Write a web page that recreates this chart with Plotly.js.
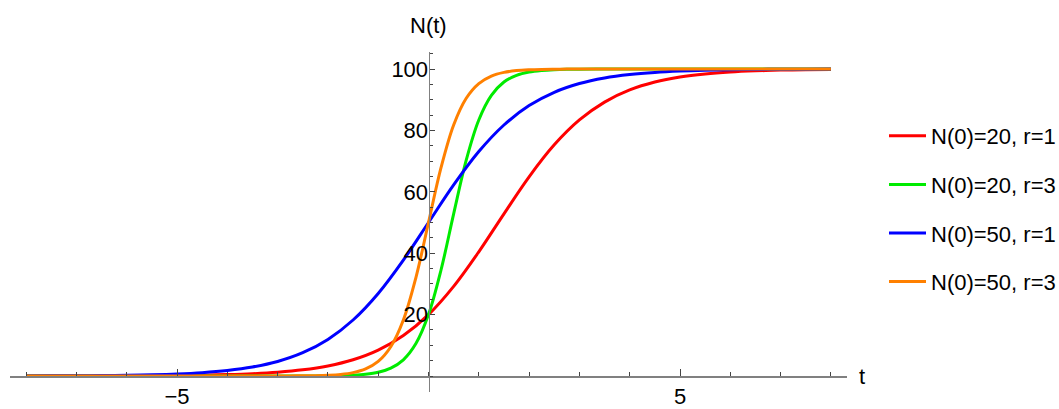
<!DOCTYPE html>
<html><head><meta charset="utf-8">
<script src="https://cdn.plot.ly/plotly-3.0.1.min.js"></script>
<style>html,body{margin:0;padding:0;background:#fff}#chart{width:1059px;height:409px}</style>
</head><body><div id="chart"></div>
<script>
// time samples
const tSlow = [-8,-7.5,-7,-6.5,-6,-5.5,-5,-4.5,-4,-3.5,-3,-2.5,-2,-1.5,-1,-0.5,0,0.5,1,1.5,2,2.5,3,3.5,4,4.5,5,5.5,6,6.5,7,7.5,8];
const tFast = [-8,-7,-6,-5,-4,-3.5,-3,-2.75,-2.5,-2.25,-2,-1.75,-1.5,-1.25,-1,-0.75,-0.5,-0.25,0,0.25,0.5,0.75,1,1.25,1.5,1.75,2,2.25,2.5,2.75,3,3.5,4,5,6,7,8];

// N(0)=20, r=1
const n20r1 = [0.01,0.01,0.02,0.04,0.06,0.10,0.17,0.28,0.46,0.75,1.23,2.01,3.27,5.28,8.42,13.17,20,29.19,40.46,52.84,64.88,75.29,83.40,89.22,93.17,95.75,97.38,98.39,99.02,99.40,99.64,99.78,99.87];
// N(0)=50, r=1
const n50r1 = [0.03,0.06,0.09,0.15,0.25,0.41,0.67,1.10,1.80,2.93,4.74,7.59,11.92,18.24,26.89,37.75,50,62.25,73.11,81.76,88.08,92.41,95.26,97.07,98.20,98.90,99.33,99.59,99.75,99.85,99.91,99.94,99.97];
// N(0)=20, r=3
const n20r3 = [0,0,0,0,0,0,0,0.01,0.01,0.03,0.06,0.13,0.28,0.58,1.23,2.57,5.28,10.56,20,34.61,52.84,70.34,83.40,91.40,95.75,97.94,99.02,99.53,99.78,99.90,99.95,99.99,100,100,100,100,100];
// N(0)=50, r=3
const n50r3 = [0,0,0,0,0,0,0.01,0.03,0.06,0.12,0.25,0.52,1.10,2.30,4.74,9.54,18.24,32.08,50,67.92,81.76,90.47,95.26,97.70,98.90,99.48,99.75,99.88,99.94,99.97,99.99,100,100,100,100,100,100];

const names = ["N(0)=20, r=1","N(0)=20, r=3","N(0)=50, r=1","N(0)=50, r=3"];
const colors = ["rgb(255,0,0)","rgb(0,235,0)","rgb(0,0,255)","rgb(255,128,0)"];
const xs = [tSlow, tFast, tSlow, tFast];
const ys = [n20r1, n20r3, n50r1, n50r3];

const FONT = "Liberation Sans, Arial, sans-serif";
const FS = 22;
const traces = ys.map((y,i)=>({
  type:'scatter', mode:'lines', x:xs[i], y:y, name:names[i],
  legendgroup:'g'+i,
  line:{color:colors[i], width:3, shape:'spline', smoothing:1}
}));

const xr = [-8.32, 8.32];
const yr = [-5.21, 105.54];
const xAxisPos = (0 - yr[0])/(yr[1]-yr[0]);
const yAxisPos = (0 - xr[0])/(xr[1]-xr[0]);

const layout = {
  width:1059, height:409,
  margin:{l:10, r:212, t:52, b:17},
  paper_bgcolor:'#fff', plot_bgcolor:'#fff',
  showlegend:true,
  legend:{xref:'container', yref:'container', x:884/1059, y:1-115/409, xanchor:'left', yanchor:'top',
    font:{family:FONT, size:FS, color:'#000'}, itemwidth:37, tracegroupgap:17, bgcolor:'rgba(0,0,0,0)'},
  xaxis:{range:xr, anchor:'free', position:xAxisPos, showline:true, linecolor:'#808080', linewidth:1.5,
    showgrid:false, zeroline:false, tickmode:'array', tickvals:[-5,5], ticktext:['\u22125','5'],
    ticks:'inside', ticklen:7, tickcolor:'#444', tickwidth:1, ticklabelstandoff:0,
    tickfont:{family:FONT, size:FS, color:'#000'},
    minor:{dtick:1, tick0:0, ticks:'inside', ticklen:4, tickcolor:'#444', showgrid:false}},
  yaxis:{range:yr, anchor:'free', position:yAxisPos, showline:true, linecolor:'#808080', linewidth:1.5,
    showgrid:false, zeroline:false, tickmode:'array', tickvals:[20,40,60,80,100],
    ticks:'inside', ticklen:5, tickcolor:'#444', tickwidth:1, ticklabelstandoff:-4,
    tickfont:{family:FONT, size:FS, color:'#000'},
    minor:{dtick:5, tick0:0, ticks:'inside', ticklen:3, tickcolor:'#444', showgrid:false}},
  annotations:[
    {text:'N(t)', xref:'paper', yref:'paper', x:0.5, y:1, yshift:12, xanchor:'center', yanchor:'bottom', showarrow:false,
     font:{family:FONT, size:FS, color:'#000'}},
    {text:'t', xref:'paper', yref:'paper', x:1, y:xAxisPos, xshift:10, xanchor:'left', yanchor:'middle', showarrow:false,
     font:{family:FONT, size:FS, color:'#000'}}
  ]
};
Plotly.newPlot('chart', traces, layout, {displayModeBar:false, staticPlot:true});
</script></body></html>
